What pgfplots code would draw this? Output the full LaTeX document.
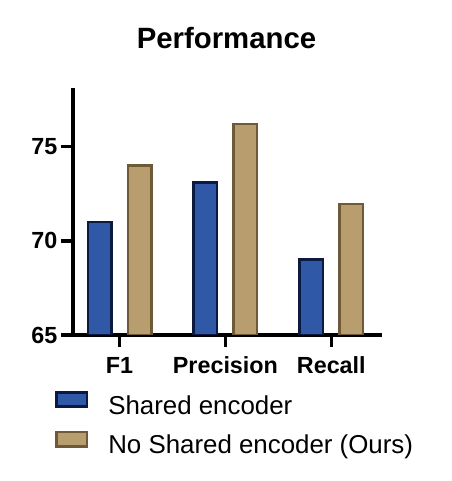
\documentclass[border=0pt]{standalone}
\usepackage{fontspec}
\setmainfont{Liberation Sans}
\usepackage{pgfplots}
\pgfplotsset{compat=1.18}

\definecolor{sharedfill}{HTML}{2F58A6}
\definecolor{shareddraw}{HTML}{0B1A3E}
\definecolor{oursfill}{HTML}{B89D6F}
\definecolor{oursdraw}{HTML}{6E5A36}

\begin{document}
\begin{tikzpicture}
\useasboundingbox (0,0) rectangle (339pt,360.75pt);
\begin{axis}[
    at={(54.75pt,109.5pt)}, anchor=south west,
    scale only axis,
    width=230.25pt, height=183.75pt,
    axis lines*=left,
    axis line style={line width=2.6pt, line cap=rect},
    every tick/.style={line width=2.6pt, black},
    major tick length=9pt,
    tick align=outside,
    xmin=-0.44, xmax=2.46,
    ymin=65, ymax=78,
    ytick={65,70,75},
    xtick={0,1,2},
    xticklabels={F1, Precision, Recall},
    /pgf/number format/assume math mode=true,
    ticklabel style={font=\bfseries\fontsize{17.5}{20}\selectfont, inner sep=0pt},
    xticklabel style={anchor=base, yshift=-19.5pt},
    yticklabel style={anchor=east, xshift=-2.5pt},
    title={Performance},
    every axis title shift=0pt,
    title style={at={(0.5,1)}, anchor=base, yshift=30.75pt,
        font=\bfseries\fontsize{22}{26}\selectfont},
    ybar=0pt,
    bar width=17.5pt,
    legend style={at={(axis description cs:-0.0586,-0.228)}, anchor=north west,
        draw=none, inner sep=0pt, column sep=15pt, row sep=8.5pt,
        font=\fontsize{19.4}{22}\selectfont,
        nodes={inner sep=0pt, text height=13pt, text depth=4pt}},
    legend cell align=left,
    legend image code/.code={
        \draw[#1, line width=2pt, bar shift=0pt] (1pt,1pt) rectangle (23.75pt,11.75pt);},
]
\addplot[fill=sharedfill, draw=shareddraw, line width=2pt, bar shift=-15pt]
    coordinates {(0,71.0) (1,73.1) (2,69.0)};
\addplot[fill=oursfill, draw=oursdraw, line width=2pt, bar shift=15pt]
    coordinates {(0,74.0) (1,76.2) (2,71.95)};
\legend{Shared encoder, No Shared encoder (Ours)}
\end{axis}
\end{tikzpicture}
\end{document}
